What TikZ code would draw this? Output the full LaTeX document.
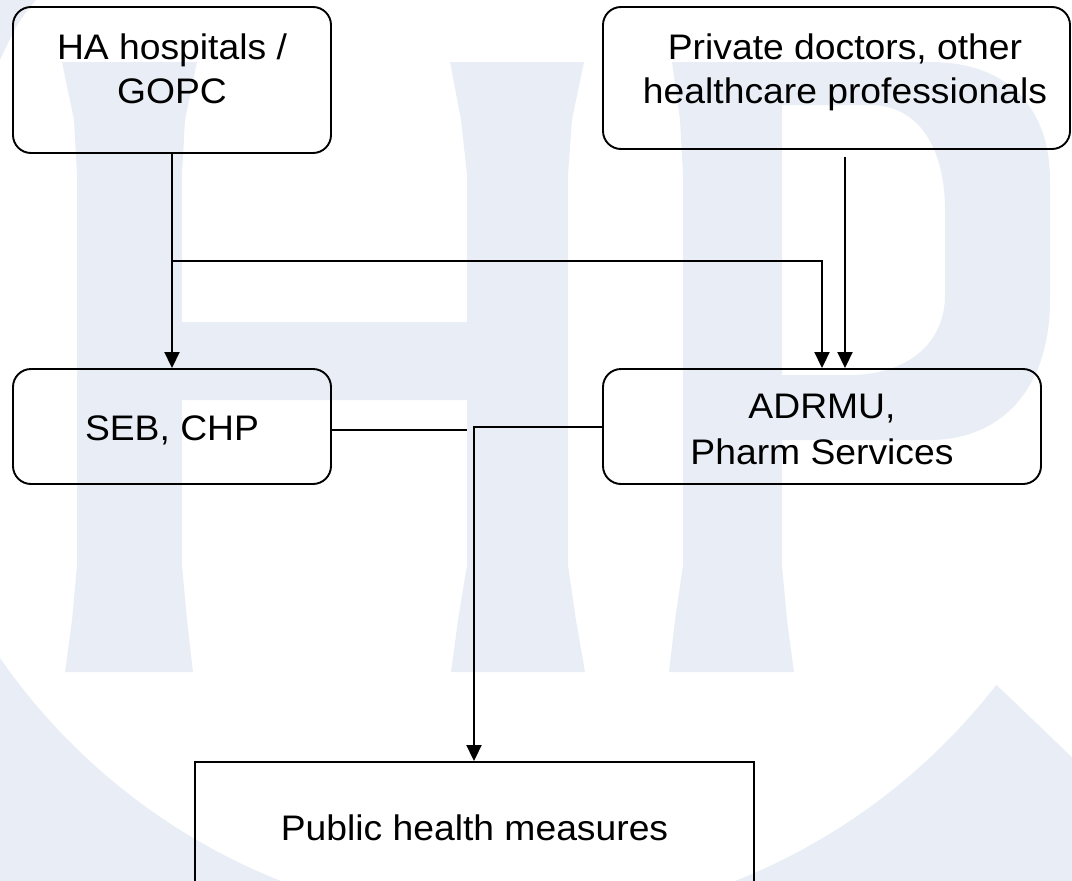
\documentclass[tikz,border=0pt]{standalone}
\usepackage{fontspec}
\setmainfont{Liberation Sans}[FakeStretch=1.05]
\usetikzlibrary{arrows.meta}
\definecolor{wm}{RGB}{233,238,246}
\begin{document}
\begin{tikzpicture}[x=1pt,y=-1pt,
  box/.style={draw, line width=1.9pt, rounded corners=18pt, inner sep=0pt},
  sqbox/.style={draw, line width=1.9pt, inner sep=0pt, font=\fontsize{35.5}{44}\selectfont},
  txt/.style={font=\fontsize{35.5}{44}\selectfont, align=center, inner sep=0pt},
  txtd/.style={font=\fontsize{35.5}{46}\selectfont, align=center, inner sep=0pt},
  conn/.style={line width=1.9pt},
  arr/.style={conn, -{Triangle[length=16pt,width=15pt]}}]
\useasboundingbox (0,0) rectangle (1072,881);
% ---- watermark ----
\fill[wm, even odd rule] (508,306) circle[radius=618] (508,306) circle[radius=950];
\fill[white] (830,525) -- (1172,853) -- (1250,-100) -- (830,-100) -- cycle;
\fill[wm] (0,0) -- (36,0) .. controls (18,22) .. (0,60) -- cycle;
% H
\fill[wm] (62,62) -- (74,120) -- (77,175) -- (77,565) -- (72,620) -- (65,672)
  -- (193,672) -- (187,620) -- (182,565) -- (182,400) -- (467,400) -- (467,565)
  -- (458,620) -- (451,672) -- (585,672) -- (576,620) -- (568,565) -- (568,175)
  -- (572,120) -- (584,62) -- (450,62) -- (461,120) -- (467,175) -- (467,322)
  -- (182,322) -- (182,175) -- (185,120) -- (197,62) -- cycle;
% P
\fill[wm, even odd rule] (672,62) -- (930,62) .. controls (1010,62) and (1050,110) .. (1050,180)
  -- (1050,300) .. controls (1050,390) and (1000,440) .. (930,440) -- (782,440)
  -- (782,565) -- (787,620) -- (794,672) -- (669,672) -- (675,620) -- (683,565)
  -- (683,175) -- (680,120) -- cycle
  (782,105) -- (870,105) .. controls (920,105) and (945,150) .. (945,210)
  -- (945,295) .. controls (945,345) and (905,375) .. (850,375) -- (782,375) -- cycle;
% ---- boxes ----
\node[box, minimum width=318pt, minimum height=146pt] (A) at (172,80) {};
\node[box, minimum width=467pt, minimum height=142pt] (B) at (836.5,78) {};
\node[box, minimum width=318pt, minimum height=115pt] (C) at (172,426.5) {};
\node[box, minimum width=438pt, minimum height=115pt] (D) at (822,426.5) {};
\node[sqbox, minimum width=559pt, minimum height=131pt] (E) at (474.5,827.5) {Public health measures};
\node[txt, anchor=north] (At) at (172,33.5) {HA hospitals /\\GOPC};
\node[txt, anchor=north] (Bt) at (845,33.5) {Private doctors, other\\healthcare professionals};
\node[txt, anchor=base] (Ct) at (172,440) {SEB, CHP};
\node[txtd, anchor=north] (Dt) at (822,393.5) {ADRMU,\\Pharm Services};
% ---- connectors ----
\coordinate (br) at (172,261);
\coordinate (Bs) at (845,157);
\coordinate (Cend) at (467,430);
\coordinate (Dj) at (474,427);
\draw[arr] (A.south) -- (C.north);
\draw[arr] (br) -| (D.north);
\draw[arr] (Bs) -- (Bs |- D.north);
\draw[conn] (Cend -| C.east) -- (Cend);
\draw[arr] (Dj -| D.west) -- (Dj) -- (Dj |- E.north);
\end{tikzpicture}
\end{document}
